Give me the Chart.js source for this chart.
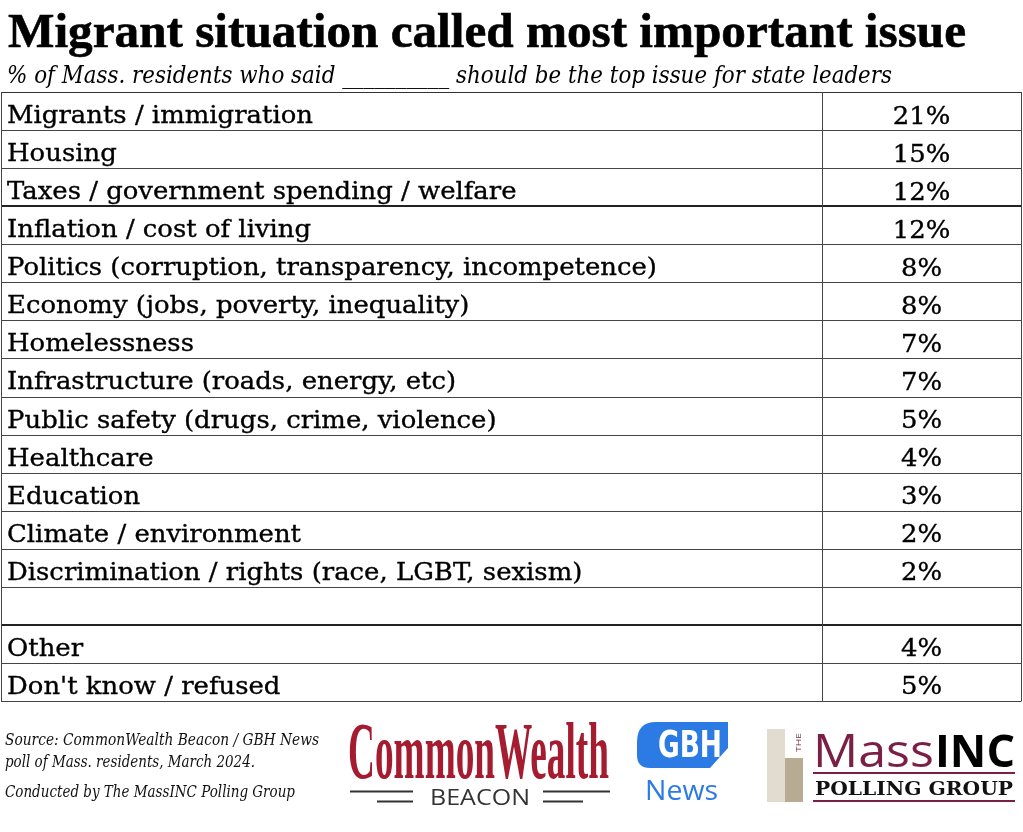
<!DOCTYPE html>
<html>
<head>
<meta charset="utf-8">
<title>Migrant situation called most important issue</title>
<script src="https://cdn.jsdelivr.net/npm/chart.js@4.4.1/dist/chart.umd.min.js"></script>
<style>
  html, body { margin: 0; padding: 0; background: #fff; }
  #wrap { width: 1023px; height: 832px; }
</style>
</head>
<body>
<div id="wrap"><canvas id="chart" width="1023" height="832"></canvas></div>
<script>
// Datos de la tabla
const issues = [
  'Migrants / immigration',
  'Housing',
  'Taxes / government spending / welfare',
  'Inflation / cost of living',
  'Politics (corruption, transparency, incompetence)',
  'Economy (jobs, poverty, inequality)',
  'Homelessness',
  'Infrastructure (roads, energy, etc)',
  'Public safety (drugs, crime, violence)',
  'Healthcare',
  'Education',
  'Climate / environment',
  'Discrimination / rights (race, LGBT, sexism)',
  '',
  'Other',
  "Don't know / refused"
];
const shares = [21, 15, 12, 12, 8, 8, 7, 7, 5, 4, 3, 2, 2, null, 4, 5];
// filas tras las que va una línea más gruesa
const groupBreaks = [2, 13];

const titleText = 'Migrant situation called most important issue';
const subtitleText = '% of Mass. residents who said __________ should be the top issue for state leaders';
const sourceLines = [
  'Source: CommonWealth Beacon / GBH News',
  'poll of Mass. residents, March 2024.',
  'Conducted by The MassINC Polling Group'
];

// posición de la columna de valores (en escala 0..1)
const SPLIT = 0.805;
const SERIF = '"DejaVu Serif", "Liberation Serif", serif';
const TIMES = '"Liberation Serif", serif';
const SANS = '"Open Sans", "DejaVu Sans", sans-serif';

// Dibuja texto ajustado a un ancho horizontal
function fitText(ctx, str, x, y, font, width, align, stroke) {
  ctx.font = font;
  const w = ctx.measureText(str).width;
  const sx = width ? width / w : 1;
  ctx.save();
  ctx.translate(x, y);
  ctx.scale(sx, 1);
  ctx.textAlign = align || 'left';
  ctx.textBaseline = 'alphabetic';
  ctx.fillText(str, 0, 0);
  if (stroke) {
    ctx.strokeStyle = ctx.fillStyle;
    ctx.lineWidth = stroke;
    ctx.strokeText(str, 0, 0);
  }
  ctx.restore();
}

function hLine(ctx, x1, x2, y, w, color) {
  ctx.save();
  ctx.strokeStyle = color;
  ctx.lineWidth = w;
  ctx.beginPath();
  ctx.moveTo(x1, y);
  ctx.lineTo(x2, y);
  ctx.stroke();
  ctx.restore();
}

// Rejilla y texto de la tabla
const tablePlugin = {
  id: 'tableCells',
  afterDatasetsDraw(chart) {
    const ctx = chart.ctx;
    const area = chart.chartArea;
    const xs = chart.scales.x;
    const labelMeta = chart.getDatasetMeta(0);
    const valueMeta = chart.getDatasetMeta(1);

    // líneas horizontales
    labelMeta.data.forEach((bar, i) => {
      const { y, height } = bar.getProps(['y', 'height'], true);
      const bottom = y + height / 2;
      if (i === 0) hLine(ctx, area.left, area.right, Math.round(y - height / 2) + 0.5, 1, '#333');
      if (groupBreaks.includes(i)) {
        hLine(ctx, area.left, area.right, Math.round(bottom), 2, '#222');
      } else {
        hLine(ctx, area.left, area.right, Math.round(bottom) + 0.5, 1, '#444');
      }
    });

    // líneas verticales
    ctx.save();
    ctx.strokeStyle = '#444';
    ctx.lineWidth = 1;
    [0, SPLIT, 1].forEach(v => {
      const px = Math.round(xs.getPixelForValue(v)) + 0.5;
      ctx.beginPath();
      ctx.moveTo(px, area.top);
      ctx.lineTo(px, area.bottom + 0.5);
      ctx.stroke();
    });
    ctx.restore();

    // factor de ancho común para el texto de las filas
    ctx.font = '25px ' + SERIF;
    const rowSx = 306 / ctx.measureText('Migrants / immigration').width;

    ctx.fillStyle = '#000';
    ctx.strokeStyle = '#000';
    ctx.lineWidth = 0.35;
    labelMeta.data.forEach((bar, i) => {
      const { y, base } = bar.getProps(['y', 'base'], true);
      if (!issues[i]) return;
      ctx.save();
      ctx.translate(base + 6, y + 12);
      ctx.scale(rowSx, 1);
      ctx.font = '25px ' + SERIF;
      ctx.textAlign = 'left';
      ctx.fillText(issues[i], 0, 0);
      ctx.strokeText(issues[i], 0, 0);
      ctx.restore();
    });

    valueMeta.data.forEach((bar, i) => {
      if (shares[i] == null) return;
      const { x, y, base } = bar.getProps(['x', 'y', 'base'], true);
      ctx.save();
      ctx.translate((x + base) / 2, y + 12.5);
      ctx.scale(rowSx, 1);
      ctx.font = '25px ' + SERIF;
      ctx.textAlign = 'center';
      ctx.fillText(shares[i] + '%', 0, 0);
      ctx.strokeText(shares[i] + '%', 0, 0);
      ctx.restore();
    });
  },
  afterDraw(chart) {
    const ctx = chart.ctx;
    ctx.fillStyle = '#000';
    // Título y subtítulo
    fitText(ctx, titleText, 8, 47, 'bold 48px ' + TIMES, 958, 'left', 0.6);
    fitText(ctx, subtitleText, 7, 83, 'italic 24px ' + SERIF, 885);

    // Fuente
    ctx.fillStyle = '#111';
    fitText(ctx, sourceLines[0], 5, 745, 'italic 16px ' + SERIF, 314);
    fitText(ctx, sourceLines[1], 5, 767, 'italic 16px ' + SERIF, 250);
    fitText(ctx, sourceLines[2], 5, 797, 'italic 16px ' + SERIF, 290);

    // Logo CommonWealth Beacon
    ctx.fillStyle = '#a51b2f';
    fitText(ctx, 'CommonWealth', 348, 778, 'bold 80px ' + TIMES, 261);
    ctx.fillStyle = '#333';
    fitText(ctx, 'BEACON', 430, 805, '22px ' + SANS, 100);
    hLine(ctx, 350, 413, 791.5, 2, '#333');
    hLine(ctx, 377, 413, 801.5, 2, '#333');
    hLine(ctx, 543, 610, 791.5, 2, '#333');
    hLine(ctx, 543, 583, 801.5, 2, '#333');

    // Logo GBH News
    const blue = '#2c7be5';
    ctx.save();
    ctx.fillStyle = blue;
    ctx.beginPath();
    ctx.moveTo(656, 722);
    ctx.lineTo(728, 722);
    ctx.lineTo(728, 748);
    ctx.lineTo(710, 768);
    ctx.lineTo(650, 768);
    ctx.quadraticCurveTo(637, 768, 637, 755);
    ctx.lineTo(637, 742);
    ctx.quadraticCurveTo(637, 722, 656, 722);
    ctx.closePath();
    ctx.fill();
    ctx.restore();
    ctx.fillStyle = '#fff';
    fitText(ctx, 'GBH', 658, 757, 'bold 38px "DejaVu Sans", sans-serif', 64);
    ctx.fillStyle = blue;
    fitText(ctx, 'News', 645, 800, '28px ' + SANS, 73);

    // Logo MassINC Polling Group
    ctx.fillStyle = '#e2dbd0';
    ctx.fillRect(767, 729, 18, 73);
    ctx.fillStyle = '#b8ab94';
    ctx.fillRect(785, 758, 18, 44);
    ctx.save();
    ctx.translate(801, 752);
    ctx.rotate(-Math.PI / 2);
    ctx.fillStyle = '#6d1d3b';
    fitText(ctx, 'THE', 0, 0, '8px ' + SANS, 19);
    ctx.restore();
    ctx.fillStyle = '#7a1f45';
    fitText(ctx, 'Mass', 813, 767, '45px ' + SANS, 121);
    ctx.fillStyle = '#000';
    fitText(ctx, 'INC', 935, 767, 'bold 45px ' + SANS, 80);
    hLine(ctx, 813, 1015, 773, 2, '#7a1f45');
    ctx.fillStyle = '#111';
    fitText(ctx, 'POLLING GROUP', 815, 795, 'bold 18px ' + SERIF, 198);
    hLine(ctx, 813, 1015, 801, 2, '#7a1f45');
  }
};

const ctx = document.getElementById('chart').getContext('2d');
new Chart(ctx, {
  type: 'bar',
  data: {
    labels: issues,
    datasets: [
      {
        label: 'Issue',
        data: issues.map(() => [0, SPLIT]),
        backgroundColor: '#fff',
        borderWidth: 0,
        barPercentage: 1,
        categoryPercentage: 1
      },
      {
        label: 'Share',
        data: shares.map(() => [SPLIT, 1]),
        backgroundColor: '#fff',
        borderWidth: 0,
        barPercentage: 1,
        categoryPercentage: 1
      }
    ]
  },
  options: {
    indexAxis: 'y',
    responsive: false,
    animation: false,
    layout: { padding: { left: 1, right: 2, top: 92, bottom: 131 } },
    plugins: {
      legend: { display: false },
      tooltip: { enabled: false },
      title: { display: false }
    },
    scales: {
      x: { type: 'linear', min: 0, max: 1, display: false },
      y: { type: 'category', display: false, stacked: true }
    }
  },
  plugins: [tablePlugin]
});
</script>
</body>
</html>
